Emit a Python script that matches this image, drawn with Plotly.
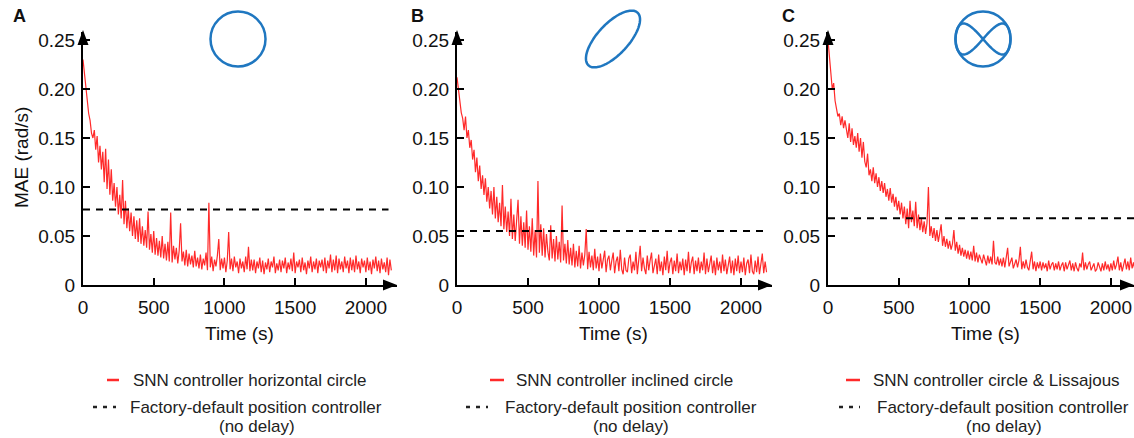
import numpy as np
import plotly.graph_objects as go

W, H = 1134, 438

# ---------------- data (MAE in milli-rad/s, sampled every 10 s) ----------------
time_step = 10
mae_horizontal = [
    230, 215, 200, 190, 175, 168, 155, 150, 158, 138,
    152, 125, 142, 118, 136, 105, 139, 98, 128, 92,
    118, 86, 104, 80, 100, 72, 92, 68, 107, 62,
    86, 58, 78, 55, 74, 50, 70, 47, 66, 44,
    68, 42, 60, 40, 56, 38, 75, 36, 52, 33,
    55, 31, 48, 30, 45, 28, 50, 27, 42, 25,
    44, 24, 74, 23, 40, 26, 38, 22, 35, 63,
    24, 34, 20, 36, 19, 32, 21, 30, 18, 35,
    19, 28, 17, 31, 16, 27, 20, 33, 15, 84,
    18, 29, 14, 26, 19, 30, 47, 15, 27, 17,
    28, 13, 25, 54, 16, 27, 14, 29, 18, 24,
    12, 27, 17, 24, 13, 29, 16, 39, 14, 26,
    15, 26, 12, 24, 17, 28, 13, 25, 11, 23,
    16, 27, 13, 24, 18, 29, 12, 22, 15, 26,
    13, 25, 17, 28, 12, 23, 16, 27, 14, 33,
    12, 24, 18, 26, 13, 28, 15, 23, 11, 25,
    17, 29, 13, 24, 16, 27, 12, 25, 18, 26,
    14, 28, 12, 25, 17, 31, 13, 26, 15, 30,
    12, 27, 16, 24, 13, 29, 17, 25, 12, 28,
    15, 26, 13, 30, 16, 24, 12, 27, 18, 25,
    13, 28, 15, 24, 11, 26, 17, 29, 14, 25,
    12, 27, 16, 23, 13, 28, 10, 26, 15,
]
mae_inclined = [
    212, 198, 186, 176, 170, 158, 172, 150, 158, 140,
    148, 128, 138, 115, 130, 106, 122, 98, 112, 92,
    109, 85, 100, 78, 96, 72, 100, 68, 90, 64,
    84, 60, 102, 57, 80, 54, 75, 50, 88, 47,
    72, 45, 66, 87, 42, 70, 40, 64, 38, 76,
    36, 60, 34, 68, 30, 56, 28, 106, 33, 62,
    30, 58, 28, 52, 34, 25, 61, 27, 47, 24,
    50, 26, 44, 23, 81, 25, 42, 22, 46, 21,
    38, 20, 42, 18, 35, 19, 40, 17, 33, 20,
    31, 57, 16, 34, 18, 30, 15, 37, 17, 29,
    14, 32, 17, 27, 35, 13, 26, 30, 15, 25,
    33, 12, 24, 29, 14, 36, 16, 11, 28, 15,
    13, 27, 31, 12, 24, 15, 34, 11, 26, 40,
    14, 28, 17, 11, 30, 15, 25, 33, 12, 22,
    27, 11, 31, 14, 24, 10, 29, 15, 35, 12,
    23, 28, 11, 25, 14, 32, 12, 24, 15, 27,
    10, 26, 14, 34, 12, 23, 29, 11, 25, 14,
    28, 12, 24, 15, 33, 11, 27, 13, 23, 30,
    12, 25, 10, 28, 15, 24, 12, 31, 14, 26,
    11, 23, 29, 12, 25, 10, 27, 14, 30, 12,
    24, 13, 28, 10, 22, 26, 12, 31, 14, 11,
    25, 13, 29, 11, 23, 32, 12, 24, 13,
]
mae_lissajous = [
    250, 230, 214, 200, 206, 188, 180, 172, 175, 163,
    172, 160, 168, 158, 150, 165, 146, 160, 143, 152,
    140, 155, 136, 150, 130, 146, 126, 120, 134, 112,
    118, 106, 120, 104, 114, 100, 110, 96, 106, 94,
    104, 90, 98, 86, 99, 84, 93, 80, 90, 76,
    86, 72, 84, 68, 80, 62, 78, 58, 86, 64,
    76, 60, 85, 58, 72, 56, 68, 54, 65, 52,
    63, 100, 50, 60, 48, 58, 45, 56, 44, 53,
    62, 40, 50, 39, 47, 37, 45, 36, 42, 56,
    35, 44, 32, 41, 30, 38, 29, 36, 27, 35,
    26, 34, 25, 40, 24, 33, 23, 31, 27, 22,
    31, 24, 20, 30, 22, 29, 21, 45, 23, 21,
    29, 20, 27, 19, 28, 18, 26, 38, 19, 23,
    28, 17, 22, 26, 18, 25, 39, 16, 24, 17,
    26, 18, 15, 25, 34, 16, 24, 14, 23, 17,
    24, 15, 23, 17, 22, 14, 25, 16, 21, 23,
    15, 22, 16, 24, 15, 20, 23, 14, 23, 16,
    21, 25, 15, 22, 14, 23, 17, 14, 22, 18,
    33, 15, 23, 16, 21, 24, 15, 18, 22, 14,
    16, 23, 17, 14, 22, 15, 24, 16, 21, 14,
    22, 15, 25, 16, 21, 29, 15, 23, 14, 22,
    27, 16, 24, 15, 28, 17, 23, 15, 25,
]
factory_levels = [0.077, 0.055, 0.068]
factory_end = [2160, 2155, 2200]
snn_names = ["SNN controller horizontal circle", "SNN controller inclined circle",
             "SNN controller circle & Lissajous"]
factory_name = "Factory-default position controller"
panel_letters = ["A", "B", "C"]
x_tickvals = [0, 500, 1000, 1500, 2000]
x_ticktext = ["0", "500", "1000", "1500", "2000"]
y_tickvals = [0, 0.05, 0.10, 0.15, 0.20, 0.25]
y_ticktext = ["0", "0.05", "0.10", "0.15", "0.20", "0.25"]

# ---------------- layout helpers (pixel -> paper) ----------------
def X(px):
    return px / W

def Y(py):
    return 1 - py / H

FONT = "Liberation Sans, Arial, Helvetica, sans-serif"
RED = "#ff2a2a"
BLUE = "#1f77c0"

# per-panel geometry in pixels
axis_x0 = [83, 457, 828]          # y-axis position
axis_x1 = [397, 772, 1134]        # end of x axis (arrow tip)
px_per_s = [0.14144, 0.14200, 0.14144]
y0_px, ytip_px = 285, 32
px_per_unit_y = 980.0

series = [mae_horizontal, mae_inclined, mae_lissajous]

fig = go.Figure()
layout = dict(
    width=W, height=H, margin=dict(l=0, r=0, t=0, b=0, autoexpand=False),
    paper_bgcolor="white", plot_bgcolor="white", showlegend=False,
    font=dict(family=FONT, size=19, color="#111"),
)
shapes, annotations = [], []

for i in range(3):
    sfx = "" if i == 0 else str(i + 1)
    xa, ya = "x" + sfx, "y" + sfx
    t = [k * time_step for k in range(len(series[i]))]
    vals = [v / 1000 for v in series[i]]
    fig.add_trace(go.Scatter(x=t, y=vals, mode="lines", name=snn_names[i],
                             line=dict(color=RED, width=1.2), xaxis=xa, yaxis=ya))
    fig.add_trace(go.Scatter(x=[0, factory_end[i]], y=[factory_levels[i]] * 2, mode="lines",
                             name=factory_name,
                             line=dict(color="black", width=2, dash="7px,6px"),
                             xaxis=xa, yaxis=ya))
    xr = (axis_x1[i] - axis_x0[i]) / px_per_s[i]
    yr = (y0_px - ytip_px) / px_per_unit_y
    layout["xaxis" + sfx] = dict(
        domain=[X(axis_x0[i]), X(axis_x1[i])], range=[0, xr], anchor=ya, automargin=False,
        showline=True, linecolor="black", linewidth=2, showgrid=False, zeroline=False,
        ticks="inside", ticklen=7, tickwidth=1.5, tickcolor="black",
        tickvals=x_tickvals, ticktext=x_ticktext, ticklabelstandoff=4,
        tickfont=dict(size=19, color="#111"),
    )
    layout["yaxis" + sfx] = dict(
        domain=[Y(y0_px), Y(ytip_px)], range=[0, yr], anchor=xa, automargin=False,
        showline=True, linecolor="black", linewidth=2, showgrid=False, zeroline=False,
        ticks="inside", ticklen=7, tickwidth=1.5, tickcolor="black",
        tickvals=y_tickvals, ticktext=y_ticktext, ticklabelstandoff=2,
        tickfont=dict(size=19, color="#111"),
    )
    ax0 = axis_x0[i]
    # arrow heads
    shapes.append(dict(type="path", xref="paper", yref="paper", line=dict(width=0),
                       fillcolor="black",
                       path=f"M {X(ax0)} {Y(30)} L {X(ax0-5.5)} {Y(45)} L {X(ax0+5.5)} {Y(45)} Z"))
    tip = axis_x1[i]
    shapes.append(dict(type="path", xref="paper", yref="paper", line=dict(width=0),
                       fillcolor="black",
                       path=f"M {X(tip)} {Y(285)} L {X(tip-14)} {Y(279.5)} L {X(tip-14)} {Y(290.5)} Z"))

# panel letters
for letter, px in zip(panel_letters, [19, 417, 788]):
    annotations.append(dict(text=f"<b>{letter}</b>", x=X(px), y=Y(16), xref="paper", yref="paper",
                            showarrow=False, font=dict(size=18, color="#111"),
                            xanchor="center", yanchor="middle"))

# axis titles
time_centers = [239, 613, 985]
for cx in time_centers:
    annotations.append(dict(text="Time (s)", x=X(cx), y=Y(333), xref="paper", yref="paper",
                            showarrow=False, font=dict(size=19, color="#111"),
                            xanchor="center", yanchor="middle"))
annotations.append(dict(text="MAE (rad/s)", x=X(21), y=Y(158), xref="paper", yref="paper",
                        showarrow=False, textangle=-90, font=dict(size=19, color="#111"),
                        xanchor="center", yanchor="middle"))

# legends (drawn below each panel)
leg = [
    dict(red=(107, 119), t1=131, dash=(93, 116), t2=128, nd=257),
    dict(red=(490, 504), t1=514, dash=(466, 488), t2=503, nd=631),
    dict(red=(846, 860), t1=871, dash=(839, 860), t2=875, nd=1004),
]
for i, L in enumerate(leg):
    shapes.append(dict(type="line", xref="paper", yref="paper",
                       x0=X(L["red"][0]), x1=X(L["red"][1]), y0=Y(380), y1=Y(380),
                       line=dict(color=RED, width=2.5)))
    shapes.append(dict(type="line", xref="paper", yref="paper",
                       x0=X(L["dash"][0]), x1=X(L["dash"][1]), y0=Y(407), y1=Y(407),
                       line=dict(color="#222", width=2.5, dash="4px,6px")))
    annotations.append(dict(text=snn_names[i], x=X(L["t1"]), y=Y(380), xref="paper", yref="paper",
                            showarrow=False, font=dict(size=17, color="#222"),
                            xanchor="left", yanchor="middle"))
    annotations.append(dict(text=factory_name, x=X(L["t2"]), y=Y(407), xref="paper", yref="paper",
                            showarrow=False, font=dict(size=17, color="#222"),
                            xanchor="left", yanchor="middle"))
    annotations.append(dict(text="(no delay)", x=X(L["nd"]), y=Y(426), xref="paper", yref="paper",
                            showarrow=False, font=dict(size=17, color="#222"),
                            xanchor="center", yanchor="middle"))

# trajectory icons
# A: horizontal circle
shapes.append(dict(type="circle", xref="paper", yref="paper",
                   x0=X(238 - 27.5), x1=X(238 + 27.5), y0=Y(39 + 27.5), y1=Y(39 - 27.5),
                   line=dict(color=BLUE, width=2.5)))
# B: inclined circle (ellipse seen in perspective)
tt = np.linspace(0, 2 * np.pi, 121)
th = np.deg2rad(47)
a, b, cx, cy = 36, 15.5, 613, 39
ex = cx + a * np.cos(tt) * np.cos(th) - b * np.sin(tt) * np.sin(th)
ey = cy - (a * np.cos(tt) * np.sin(th) + b * np.sin(tt) * np.cos(th))
path = "M " + " L ".join(f"{X(u):.5f} {Y(v):.5f}" for u, v in zip(ex, ey)) + " Z"
shapes.append(dict(type="path", xref="paper", yref="paper", path=path,
                   line=dict(color=BLUE, width=2.5)))
# C: circle with Lissajous figure-eight
cx, cy, R, h = 983, 39, 27.5, 15.5
shapes.append(dict(type="circle", xref="paper", yref="paper",
                   x0=X(cx - R), x1=X(cx + R), y0=Y(cy + R), y1=Y(cy - R),
                   line=dict(color=BLUE, width=2.5)))
lx = cx + R * np.sin(tt)
ly = cy - h * np.sin(2 * tt)
path = "M " + " L ".join(f"{X(u):.5f} {Y(v):.5f}" for u, v in zip(lx, ly)) + " Z"
shapes.append(dict(type="path", xref="paper", yref="paper", path=path,
                   line=dict(color=BLUE, width=2.5)))

layout["shapes"] = shapes
layout["annotations"] = annotations
fig.update_layout(**layout)
fig.write_html("out.html")
